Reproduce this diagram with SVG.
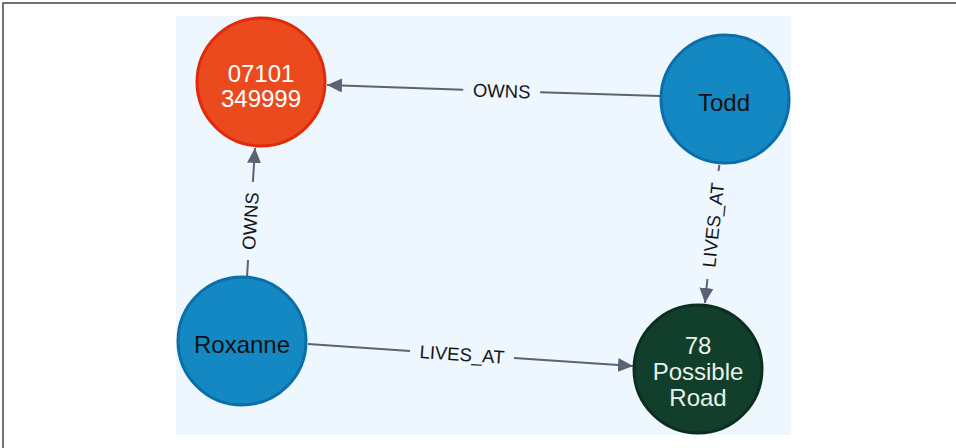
<svg xmlns="http://www.w3.org/2000/svg" width="956" height="448" viewBox="0 0 956 448">
<style>
.edge{fill:none;stroke:#5b6275;stroke-width:2}
.elabel{font-family:"Liberation Sans",Arial,sans-serif;font-size:18.5px;fill:#151515;text-anchor:middle}
.ntext{font-family:"Liberation Sans",Arial,sans-serif;font-size:24px;text-anchor:middle}
.person{fill:#1488c3;stroke:#0a6ea8;stroke-width:3}
</style>
<defs>
<marker id="arr" markerUnits="userSpaceOnUse" markerWidth="16" markerHeight="15" refX="15" refY="7" orient="auto">
<path d="M0,0 L15,7 L0,14 Z" fill="#5b6275"/>
</marker>
</defs>
<rect x="0" y="0" width="956" height="448" fill="#ffffff"/>
<path d="M3,448 L3,3 L956,3" fill="none" stroke="#444" stroke-width="1.5"/>
<rect x="176" y="16" width="615" height="419" fill="#eef6fe"/>
<g id="connectors">
<g id="e-todd-phone">
<path class="edge" d="M660,96 L540.2,92.3 M463.2,89.7 L327,85" marker-end="url(#arr)"/>
<text class="elabel" transform="translate(501.7,91) rotate(1.89)" y="6.5">OWNS</text>
</g>
<g id="e-roxanne-phone">
<path class="edge" d="M247,277 L248.05,260 M252.9,182 L255,148" marker-end="url(#arr)"/>
<text class="elabel" transform="translate(250.4,221) rotate(-86.45)" y="6.5">OWNS</text>
</g>
<g id="e-todd-address">
<path class="edge" d="M719.5,165 L718.4,171 M707.4,279 L705,303" marker-end="url(#arr)"/>
<text class="elabel" transform="translate(713.2,225) rotate(-84)" y="6.5">LIVES_AT</text>
</g>
<g id="e-roxanne-address">
<path class="edge" d="M308,344 L410,350.9 M514,357.9 L633,366" marker-end="url(#arr)"/>
<text class="elabel" transform="translate(462,354.4) rotate(3.87)" y="6.5">LIVES_AT</text>
</g>
</g>
<g id="node-phone">
<circle cx="261" cy="82" r="64" fill="#eb4a1e" stroke="#e02a0b" stroke-width="3"/>
<text class="ntext" x="261" y="82" fill="#ffffff" font-size="22">07101</text>
<text class="ntext" x="261" y="107" fill="#ffffff" font-size="22">349999</text>
</g>
<g id="node-todd">
<circle class="person" cx="725" cy="99" r="64"/>
<text class="ntext" x="724" y="111" fill="#111">Todd</text>
</g>
<g id="node-roxanne">
<circle class="person" cx="242" cy="341" r="64"/>
<text class="ntext" x="242" y="353" fill="#111" font-size="24.5">Roxanne</text>
</g>
<g id="node-address">
<circle cx="698" cy="369" r="64" fill="#123f2b" stroke="#0c2e1e" stroke-width="3"/>
<text class="ntext" x="698" y="354" fill="#e8f2ea" font-size="22.5">78</text>
<text class="ntext" x="698" y="380" fill="#e8f2ea" font-size="22.5">Possible</text>
<text class="ntext" x="698" y="406" fill="#e8f2ea" font-size="22.5">Road</text>
</g>
</svg>
